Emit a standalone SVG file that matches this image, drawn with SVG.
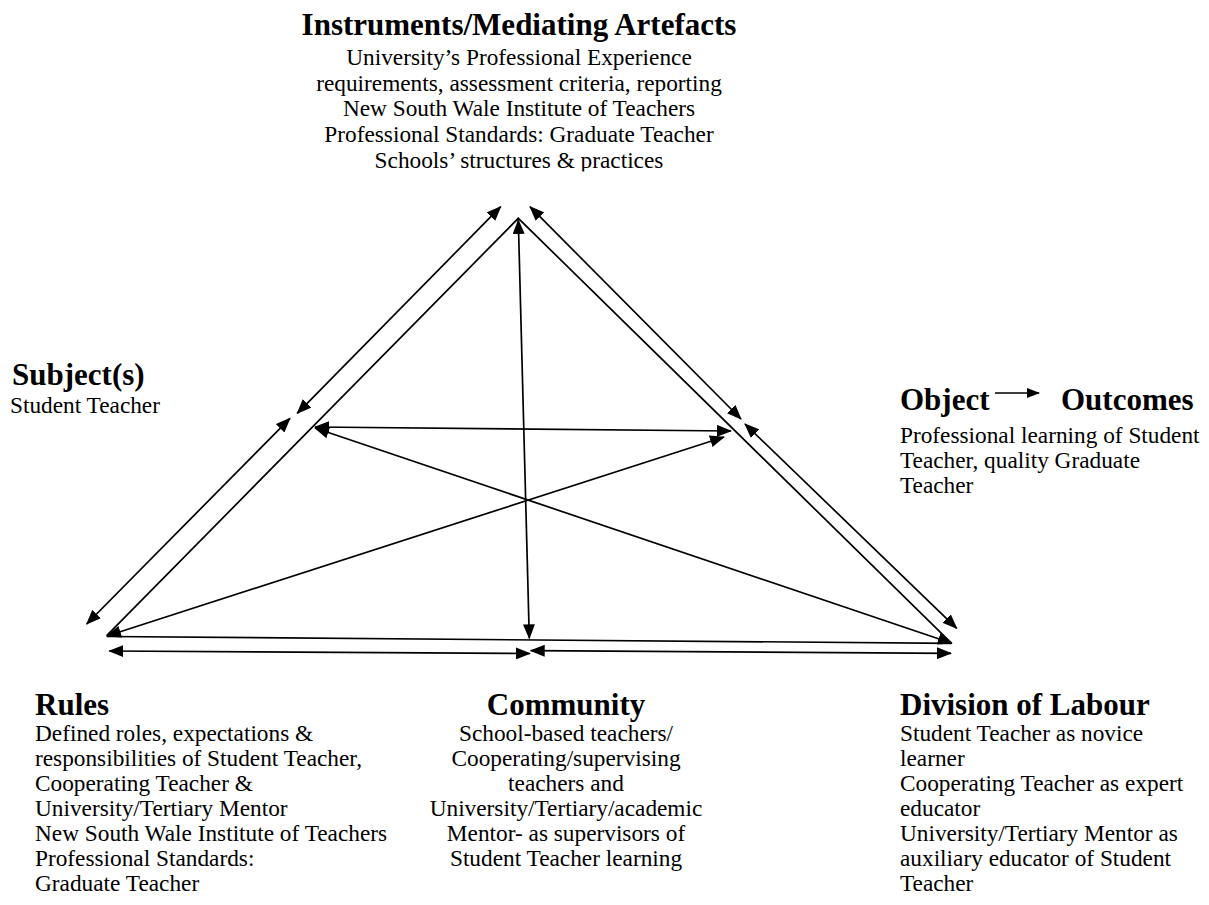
<svg xmlns="http://www.w3.org/2000/svg" width="1209" height="905" viewBox="0 0 1209 905">
<style>
text{font-family:"Liberation Serif","Times New Roman",serif;fill:#000}
.t{font-size:31px;font-weight:bold}
.b{font-size:23.3px}
.c{text-anchor:middle}
.ln{stroke:#000;stroke-width:1.7;fill:none}
.da{marker-start:url(#ah);marker-end:url(#ah)}
</style>
<defs>
<marker id="ah" markerUnits="userSpaceOnUse" markerWidth="15" markerHeight="12" refX="14" refY="6" orient="auto-start-reverse" viewBox="0 0 15 12">
<path d="M0,0 L15,6 L0,12 z" fill="#000"/>
</marker>
<marker id="sm" markerUnits="userSpaceOnUse" markerWidth="13" markerHeight="10" refX="12" refY="5" orient="auto" viewBox="0 0 13 10">
<path d="M0,0 L13,5 L0,10 z" fill="#000"/>
</marker>
<clipPath id="topclip"><rect x="0" y="0" width="1209" height="171.5"/></clipPath>
</defs>
<rect width="1209" height="905" fill="#fff"/>

<g id="instruments" clip-path="url(#topclip)">
<text class="t c" x="519" y="35">Instruments/Mediating Artefacts</text>
<text class="b c" x="519" y="65">University’s Professional Experience</text>
<text class="b c" x="519" y="90.5">requirements, assessment criteria, reporting</text>
<text class="b c" x="519" y="116">New South Wale Institute of Teachers</text>
<text class="b c" x="519" y="141.5">Professional Standards: Graduate Teacher</text>
<text class="b c" x="519" y="168">Schools’ structures &amp; practices</text>
</g>

<g id="subject">
<text class="t" x="12" y="385">Subject(s)</text>
<text class="b" x="10" y="413">Student Teacher</text>
</g>

<g id="object">
<text class="t" x="900" y="410">Object</text>
<line x1="995" y1="393" x2="1039" y2="393" stroke="#000" stroke-width="1.5" marker-end="url(#sm)"/>
<text class="t" x="1061" y="410">Outcomes</text>
<text class="b" x="900" y="443">Professional learning of Student</text>
<text class="b" x="900" y="468">Teacher, quality Graduate</text>
<text class="b" x="900" y="493">Teacher</text>
</g>

<g id="rules">
<text class="t" x="35" y="715">Rules</text>
<text class="b" x="35" y="741">Defined roles, expectations &amp;</text>
<text class="b" x="35" y="766">responsibilities of Student Teacher,</text>
<text class="b" x="35" y="791">Cooperating Teacher &amp;</text>
<text class="b" x="35" y="816">University/Tertiary Mentor</text>
<text class="b" x="35" y="841">New South Wale Institute of Teachers</text>
<text class="b" x="35" y="866">Professional Standards:</text>
<text class="b" x="35" y="891">Graduate Teacher</text>
</g>

<g id="community">
<text class="t c" x="566" y="715">Community</text>
<text class="b c" x="566" y="741">School-based teachers/</text>
<text class="b c" x="566" y="766">Cooperating/supervising</text>
<text class="b c" x="566" y="791">teachers and</text>
<text class="b c" x="566" y="816">University/Tertiary/academic</text>
<text class="b c" x="566" y="841">Mentor- as supervisors of</text>
<text class="b c" x="566" y="866">Student Teacher learning</text>
</g>

<g id="division">
<text class="t" x="900" y="715">Division of Labour</text>
<text class="b" x="900" y="741">Student Teacher as novice</text>
<text class="b" x="900" y="766">learner</text>
<text class="b" x="900" y="791">Cooperating Teacher as expert</text>
<text class="b" x="900" y="816">educator</text>
<text class="b" x="900" y="841">University/Tertiary Mentor as</text>
<text class="b" x="900" y="866">auxiliary educator of Student</text>
<text class="b" x="900" y="891">Teacher</text>
</g>

<g id="connectors">
<polyline class="ln" points="106.7,635.7 518.3,218.3 951.7,643.3"/>
<line class="ln" x1="106.7" y1="636.5" x2="951.7" y2="643.3"/>
<line class="ln da" x1="500.7" y1="206.7" x2="297.3" y2="413.3"/>
<line class="ln da" x1="290" y1="418.3" x2="86.7" y2="624"/>
<line class="ln da" x1="530" y1="206.7" x2="741" y2="419"/>
<line class="ln da" x1="745" y1="424" x2="956.7" y2="628.3"/>
<line class="ln da" x1="518.3" y1="220" x2="529.3" y2="638.3"/>
<line class="ln da" x1="315" y1="427" x2="731" y2="431"/>
<line class="ln da" x1="107" y1="636" x2="724" y2="437"/>
<line class="ln da" x1="315" y1="428" x2="951.7" y2="643.3"/>
<line class="ln da" x1="109.3" y1="651" x2="530" y2="653.5"/>
<line class="ln da" x1="530.7" y1="650.7" x2="951" y2="653.3"/>
</g>
</svg>
